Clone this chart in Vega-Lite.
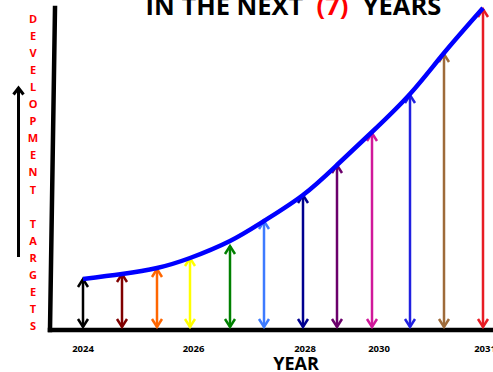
{
  "$schema": "https://vega.github.io/schema/vega-lite/v6.json",
  "width": 493,
  "height": 372,
  "autosize": "none",
  "padding": 0,
  "background": "white",
  "config": {"view": {"stroke": null}},
  "datasets": {
    "arrows": [
      {"t": 0, "h": 51, "c": "#000000"},
      {"t": 39, "h": 56, "c": "#800000"},
      {"t": 74, "h": 61, "c": "#ff6600"},
      {"t": 107, "h": 72, "c": "#ffff00"},
      {"t": 147, "h": 84, "c": "#008000"},
      {"t": 181, "h": 109, "c": "#3d7bff"},
      {"t": 220, "h": 135, "c": "#000090"},
      {"t": 254, "h": 165, "c": "#6b006b"},
      {"t": 289, "h": 197, "c": "#d0189a"},
      {"t": 327, "h": 235, "c": "#2020e0"},
      {"t": 361, "h": 276, "c": "#9e6b3a"},
      {"t": 400, "h": 321, "c": "#e81c24"}
    ],
    "curve": [
      {"t": 0, "h": 51},
      {"t": 39, "h": 56},
      {"t": 74, "h": 62},
      {"t": 107, "h": 72},
      {"t": 147, "h": 89},
      {"t": 181, "h": 109},
      {"t": 220, "h": 135},
      {"t": 254, "h": 165},
      {"t": 289, "h": 198},
      {"t": 327, "h": 236},
      {"t": 361, "h": 277},
      {"t": 400, "h": 322}
    ],
    "years": [
      {"t": 0, "h": -19, "label": "2024"},
      {"t": 110.5, "h": -19, "label": "2026"},
      {"t": 222, "h": -19, "label": "2028"},
      {"t": 296, "h": -19, "label": "2030"},
      {"t": 402, "h": -19, "label": "2031"}
    ],
    "title": [
      {"t": 141.5, "h": 315, "label": "IN THE NEXT", "c": "#000000"},
      {"t": 249.5, "h": 315, "label": "(7)", "c": "#ff0000"},
      {"t": 319, "h": 315, "label": "YEARS", "c": "#000000"}
    ]
  },
  "layer": [
    {
      "data": {"values": [{"t": -33, "h": 0, "t2": 410, "h2": 0}, {"t": -33, "h": 0, "t2": -28, "h2": 322}]},
      "mark": {"type": "rule", "color": "#000000", "strokeWidth": 4.5, "strokeCap": "square"},
      "encoding": {
        "x": {"field": "t", "type": "quantitative", "scale": {"domain": [-83, 410], "nice": false, "zero": false}, "axis": null},
        "y": {"field": "h", "type": "quantitative", "scale": {"domain": [-42, 330], "nice": false, "zero": false}, "axis": null},
        "x2": {"field": "t2"},
        "y2": {"field": "h2"}
      }
    },
    {
      "data": {"name": "arrows"},
      "mark": {"type": "rule", "strokeWidth": 2.5},
      "encoding": {
        "x": {"field": "t", "type": "quantitative"},
        "y": {"field": "h", "type": "quantitative"},
        "y2": {"datum": 3},
        "color": {"field": "c", "type": "nominal", "scale": null}
      }
    },
    {
      "data": {"name": "arrows"},
      "mark": {"type": "point", "shape": "M-1,1.6L0,0L1,1.6", "filled": false, "strokeWidth": 2.5, "size": 100, "opacity": 1},
      "encoding": {
        "x": {"field": "t", "type": "quantitative"},
        "y": {"field": "h", "type": "quantitative"},
        "color": {"field": "c", "type": "nominal", "scale": null}
      }
    },
    {
      "data": {"name": "arrows"},
      "mark": {"type": "point", "shape": "M-1,-1.6L0,0L1,-1.6", "filled": false, "strokeWidth": 2.5, "size": 100, "opacity": 1},
      "encoding": {
        "x": {"field": "t", "type": "quantitative"},
        "y": {"datum": 3},
        "color": {"field": "c", "type": "nominal", "scale": null}
      }
    },
    {
      "data": {"name": "curve"},
      "mark": {"type": "line", "color": "#0000ff", "strokeWidth": 4.5, "interpolate": "natural"},
      "encoding": {
        "x": {"field": "t", "type": "quantitative"},
        "y": {"field": "h", "type": "quantitative"}
      }
    },
    {
      "data": {"values": [{"t": -64.5, "h": 73, "h2": 242}]},
      "mark": {"type": "rule", "color": "#000000", "strokeWidth": 3},
      "encoding": {
        "x": {"field": "t", "type": "quantitative"},
        "y": {"field": "h", "type": "quantitative"},
        "y2": {"field": "h2"}
      }
    },
    {
      "data": {"values": [{"t": -64.5, "h": 242}]},
      "mark": {"type": "point", "shape": "M-1,1.3L0,0L1,1.3", "filled": false, "strokeWidth": 3, "size": 100, "opacity": 1, "color": "#000000"},
      "encoding": {
        "x": {"field": "t", "type": "quantitative"},
        "y": {"field": "h", "type": "quantitative"}
      }
    },
    {
      "data": {"values": [
        {"t": -50, "h": 307, "label": "D\nE\nV\nE\nL\nO\nP\nM\nE\nN\nT"},
        {"t": -50, "h": 102.4, "label": "T\nA\nR\nG\nE\nT\nS"}
      ]},
      "mark": {"type": "text", "font": "Open Sans", "fontWeight": "bold", "fontSize": 11, "color": "#ff0000", "lineBreak": "\n", "lineHeight": 17.05, "baseline": "alphabetic", "align": "center"},
      "encoding": {
        "x": {"field": "t", "type": "quantitative"},
        "y": {"field": "h", "type": "quantitative"},
        "text": {"field": "label"}
      }
    },
    {
      "data": {"name": "years"},
      "mark": {"type": "text", "font": "Open Sans", "fontWeight": "bold", "fontSize": 9.5, "color": "#000000", "baseline": "middle", "align": "center"},
      "encoding": {
        "x": {"field": "t", "type": "quantitative"},
        "y": {"field": "h", "type": "quantitative"},
        "text": {"field": "label"}
      }
    },
    {
      "data": {"values": [{"t": 213, "h": -40, "label": "YEAR"}]},
      "mark": {"type": "text", "font": "Open Sans", "fontWeight": "bold", "fontSize": 18, "color": "#000000", "baseline": "alphabetic", "align": "center"},
      "encoding": {
        "x": {"field": "t", "type": "quantitative"},
        "y": {"field": "h", "type": "quantitative"},
        "text": {"field": "label"}
      }
    },
    {
      "data": {"name": "title"},
      "mark": {"type": "text", "font": "Open Sans", "fontWeight": "bold", "fontSize": 25.5, "baseline": "alphabetic", "align": "center"},
      "encoding": {
        "x": {"field": "t", "type": "quantitative"},
        "y": {"field": "h", "type": "quantitative"},
        "text": {"field": "label"},
        "color": {"field": "c", "type": "nominal", "scale": null}
      }
    }
  ]
}
